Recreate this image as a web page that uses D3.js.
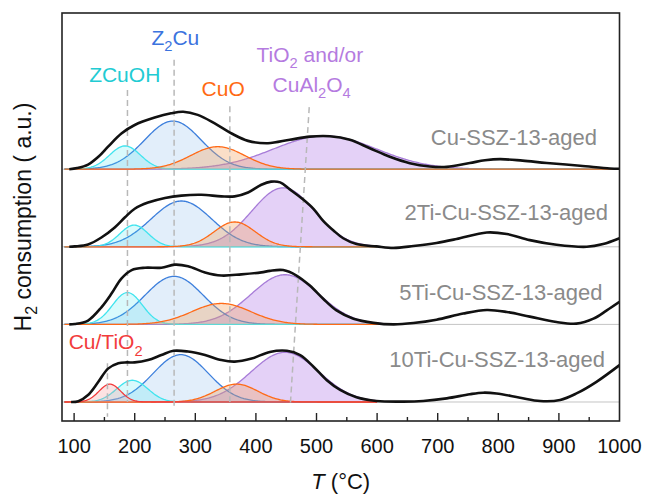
<!DOCTYPE html>
<html>
<head>
<meta charset="utf-8">
<script src="https://cdn.jsdelivr.net/npm/d3@7"></script>
<style>
  body { margin: 0; background: #fff; }
  svg { display: block; font-family: "Liberation Sans", Arial, sans-serif; }
</style>
</head>
<body>
<svg id="chart" width="645" height="496"></svg>
<script>
// H2-TPR profiles of aged Cu-SSZ-13 catalysts with Gaussian peak deconvolution.

const samples = ["Cu-SSZ-13-aged", "2Ti-Cu-SSZ-13-aged", "5Ti-Cu-SSZ-13-aged", "10Ti-Cu-SSZ-13-aged"];
const sampleOffsets = [3, 2, 1, 0];          // vertical stacking, in a.u.
const fitEnd = [1000, 600, 636, 600];        // upper limit of each fitted window (°C)
const xTickLabels = [100, 200, 300, 400, 500, 600, 700, 800, 900, 1000];

// Measured profiles: [temperature °C, H2 signal a.u.]
const profileCu = [[92,0],[105,0.015],[123,0.06],[140,0.16],[156,0.29],[178,0.46],[200,0.57],[233,0.665],[260,0.72],[280,0.74],[304,0.70],[332,0.59],[360,0.46],[387,0.365],[420,0.335],[456,0.38],[489,0.42],[522,0.425],[555,0.38],[588,0.27],[621,0.16],[654,0.077],[687,0.035],[715,0.03],[753,0.08],[778,0.115],[803,0.13],[840,0.11],[880,0.08],[935,0.045],[984,0.01],[1000,0.005]];
const profile2Ti = [[92,0],[101,0.005],[123,0.03],[145,0.12],[167,0.25],[184,0.38],[200,0.49],[222,0.57],[250,0.63],[277,0.66],[310,0.67],[343,0.65],[365,0.65],[387,0.70],[409,0.80],[425,0.84],[440,0.83],[456,0.74],[478,0.61],[495,0.49],[511,0.335],[528,0.21],[544,0.11],[566,0.035],[599,0.005],[627,-0.015],[660,0.01],[698,0.05],[731,0.10],[781,0.185],[814,0.165],[852,0.086],[896,0.026],[946,0.0],[973,0.035],[1000,0.11]];
const profile5Ti = [[92,0],[101,0.005],[123,0.05],[145,0.22],[162,0.40],[178,0.59],[195,0.70],[217,0.73],[244,0.73],[266,0.77],[288,0.75],[316,0.67],[343,0.63],[376,0.645],[409,0.67],[423,0.69],[445,0.70],[467,0.63],[489,0.50],[511,0.33],[533,0.18],[561,0.073],[594,0.02],[627,0.0],[660,0.017],[698,0.06],[742,0.14],[781,0.185],[814,0.16],[852,0.10],[896,0.03],[929,0.01],[957,0.074],[979,0.18],[1000,0.29]];
const profile10Ti = [[95,0],[107,0.01],[123,0.09],[140,0.26],[156,0.43],[173,0.50],[187,0.51],[200,0.51],[222,0.54],[244,0.605],[264,0.66],[288,0.65],[316,0.605],[343,0.54],[365,0.52],[393,0.56],[423,0.645],[451,0.66],[473,0.605],[495,0.455],[517,0.28],[539,0.155],[566,0.06],[599,0.013],[643,0.005],[676,0.013],[715,0.047],[753,0.10],[775,0.12],[797,0.11],[836,0.055],[869,0.013],[902,0.026],[929,0.11],[962,0.26],[1000,0.475]];
const profiles = [profileCu, profile2Ti, profile5Ti, profile10Ti];

// Fitted Gaussian peaks: [species, centre °C, height a.u., FWHM °C]
const peaksCu = [["TiO2", 514, 0.43, 200], ["Z2Cu", 263, 0.62, 110], ["ZCuOH", 184, 0.30, 60], ["CuO", 337, 0.29, 105]];
const peaks2Ti = [["TiO2", 445, 0.76, 122], ["Z2Cu", 277, 0.59, 118], ["ZCuOH", 199, 0.28, 55], ["CuO", 365, 0.32, 80]];
const peaks5Ti = [["TiO2", 448, 0.64, 132], ["Z2Cu", 265, 0.62, 113], ["ZCuOH", 188, 0.41, 58], ["CuO", 343, 0.27, 115]];
const peaks10Ti = [["TiO2", 448, 0.64, 132], ["Z2Cu", 276, 0.61, 107], ["ZCuOH", 196, 0.28, 60], ["CuO", 368, 0.23, 83], ["CuTiO2", 159, 0.23, 42]];
const peakSets = [peaksCu, peaks2Ti, peaks5Ti, peaks10Ti];

// Guide lines marking the peak positions: [species, T top, level top, T bottom, level bottom]
const guides = [
  ["CuTiO2", 155, 0.50, 155, -0.19],
  ["ZCuOH", 188, 4.02, 188, 0.0],
  ["Z2Cu", 265, 4.41, 265, -0.08],
  ["CuO", 357, 3.81, 357, 0.0],
  ["TiO2", 488, 3.80, 457, -0.01]
];

const speciesStyle = {
  TiO2:   { stroke: "#a77cd8", fill: "#c9a3ef", op: 0.5 },
  Z2Cu:   { stroke: "#3d7fdc", fill: "#3d8ae0", op: 0.15 },
  ZCuOH:  { stroke: "#40e4ee", fill: "#40e4ee", op: 0.2 },
  CuO:    { stroke: "#ff6a17", fill: "#f3a460", op: 0.35 },
  CuTiO2: { stroke: "#f23c3c", fill: "#f5a0a0", op: 0.3 }
};

const plot = { left: 62, right: 619.5, top: 13, bottom: 421 };

const x = d3.scaleLinear().domain([80, 1000]).range([plot.left, plot.right]);
const y = d3.scaleLinear().domain([-0.245, 5.013]).range([plot.bottom, plot.top]);

const svg = d3.select("#chart");

svg.append("clipPath").attr("id", "plotClip")
  .append("rect")
  .attr("x", plot.left).attr("y", plot.top)
  .attr("width", plot.right - plot.left).attr("height", plot.bottom - plot.top);

const body = svg.append("g").attr("clip-path", "url(#plotClip)");

// grey zero lines
body.selectAll("line.base").data(sampleOffsets).join("line")
  .attr("class", "base")
  .attr("x1", x(80)).attr("x2", x(1000))
  .attr("y1", d => y(d)).attr("y2", d => y(d))
  .attr("stroke", "#c4c4c4").attr("stroke-width", 1);

const gauss = (T, c, h, w) => h * Math.exp(-4 * Math.LN2 * (T - c) * (T - c) / (w * w));

// fitted component areas
peakSets.forEach((peaks, i) => {
  const off = sampleOffsets[i];
  const Ts = d3.range(84, fitEnd[i] + 0.001, 2);
  peaks.forEach(p => {
    const st = speciesStyle[p[0]];
    const pts = Ts.map(T => [T, gauss(T, p[1], p[2], p[3])]);
    const area = d3.area().x(d => x(d[0])).y0(y(off)).y1(d => y(off + d[1]));
    const line = d3.line().x(d => x(d[0])).y(d => y(off + d[1]));
    body.append("path").attr("d", area(pts)).attr("fill", st.fill).attr("fill-opacity", st.op);
    body.append("path").attr("d", line(pts)).attr("fill", "none")
      .attr("stroke", st.stroke).attr("stroke-width", 1.3);
  });
});

// dashed guides
body.selectAll("line.guide").data(guides).join("line")
  .attr("class", "guide")
  .attr("x1", d => x(d[1])).attr("y1", d => y(d[2]))
  .attr("x2", d => x(d[3])).attr("y2", d => y(d[4]))
  .attr("stroke", "#b8b8b8").attr("stroke-width", 1.5)
  .attr("stroke-dasharray", "6,4");

// measured profiles
const profLine = off => d3.line().x(d => x(d[0])).y(d => y(off + d[1])).curve(d3.curveCatmullRom.alpha(0.5));
profiles.forEach((pr, i) => {
  body.append("path").attr("d", profLine(sampleOffsets[i])(pr))
    .attr("fill", "none").attr("stroke", "#111").attr("stroke-width", 2.6)
    .attr("stroke-linejoin", "round");
});

// sample names
const nameAnchor = [[963, 0.31], [981, 0.34], [972, 0.31], [976, 0.455]];
samples.forEach((s, i) => {
  svg.append("text")
    .attr("x", x(nameAnchor[i][0])).attr("y", y(sampleOffsets[i] + nameAnchor[i][1]))
    .attr("text-anchor", "end").attr("font-size", 22).attr("fill", "#8a8a8a")
    .text(s);
});

// text with subscripts
function richText(parent, parts, px, py, color, size, anchor) {
  const t = parent.append("text").attr("x", px).attr("y", py)
    .attr("text-anchor", anchor || "middle").attr("font-size", size).attr("fill", color);
  let sub = false;
  parts.forEach(([str, isSub]) => {
    const ts = t.append("tspan").text(str);
    if (isSub && !sub) { ts.attr("dy", size * 0.3).attr("font-size", size * 0.7); sub = true; }
    else if (isSub) { ts.attr("font-size", size * 0.7); }
    else if (!isSub && sub) { ts.attr("dy", -size * 0.3); sub = false; }
  });
  return t;
}

richText(svg, [["ZCuOH", false]], x(183.5), y(4.127), "#22cbd3", 21);
richText(svg, [["Z", false], ["2", true], ["Cu", false]], x(267), y(4.60), "#3b73de", 21);
richText(svg, [["CuO", false]], x(346), y(3.943), "#ff6a13", 21);
richText(svg, [["TiO", false], ["2", true], [" and/or", false]], x(489), y(4.385), "#b57be0", 21);
richText(svg, [["CuAl", false], ["2", true], ["O", false], ["4", true]], x(492), y(3.998), "#b57be0", 21);
richText(svg, [["Cu/TiO", false], ["2", true]], x(152), y(0.68), "#f23c3c", 21);

// frame
svg.append("rect")
  .attr("x", plot.left).attr("y", plot.top)
  .attr("width", plot.right - plot.left).attr("height", plot.bottom - plot.top)
  .attr("fill", "none").attr("stroke", "#222").attr("stroke-width", 1.6);

// bottom axis: inward ticks with labels below
const minorTicks = d3.range(150, 1000, 100);
svg.append("g").selectAll("line").data(xTickLabels.filter(t => t < 1000)).join("line")
  .attr("x1", d => x(d)).attr("x2", d => x(d))
  .attr("y1", plot.bottom).attr("y2", plot.bottom - 8)
  .attr("stroke", "#222").attr("stroke-width", 1.4);
svg.append("g").selectAll("line").data(minorTicks).join("line")
  .attr("x1", d => x(d)).attr("x2", d => x(d))
  .attr("y1", plot.bottom).attr("y2", plot.bottom - 4)
  .attr("stroke", "#222").attr("stroke-width", 1.4);
svg.append("g").selectAll("text").data(xTickLabels).join("text")
  .attr("x", d => x(d)).attr("y", 453)
  .attr("text-anchor", "middle").attr("font-size", 20).attr("fill", "#111")
  .text(d => d);

// axis titles
const xt = svg.append("text").attr("x", (plot.left + plot.right) / 2).attr("y", 489)
  .attr("text-anchor", "middle").attr("font-size", 22).attr("fill", "#111");
xt.append("tspan").attr("font-style", "italic").text("T");
xt.append("tspan").text(" (°C)");

const ytitle = svg.append("g").attr("transform", `translate(31,${(plot.top + plot.bottom) / 2}) rotate(-90)`);
const yt = ytitle.append("text").attr("x", 0).attr("y", 0)
  .attr("text-anchor", "middle").attr("font-size", 23).attr("fill", "#111");
yt.append("tspan").text("H");
yt.append("tspan").attr("dy", 6).attr("font-size", 16).text("2");
yt.append("tspan").attr("dy", -6).text(" consumption ( a.u.)");
</script>
</body>
</html>
